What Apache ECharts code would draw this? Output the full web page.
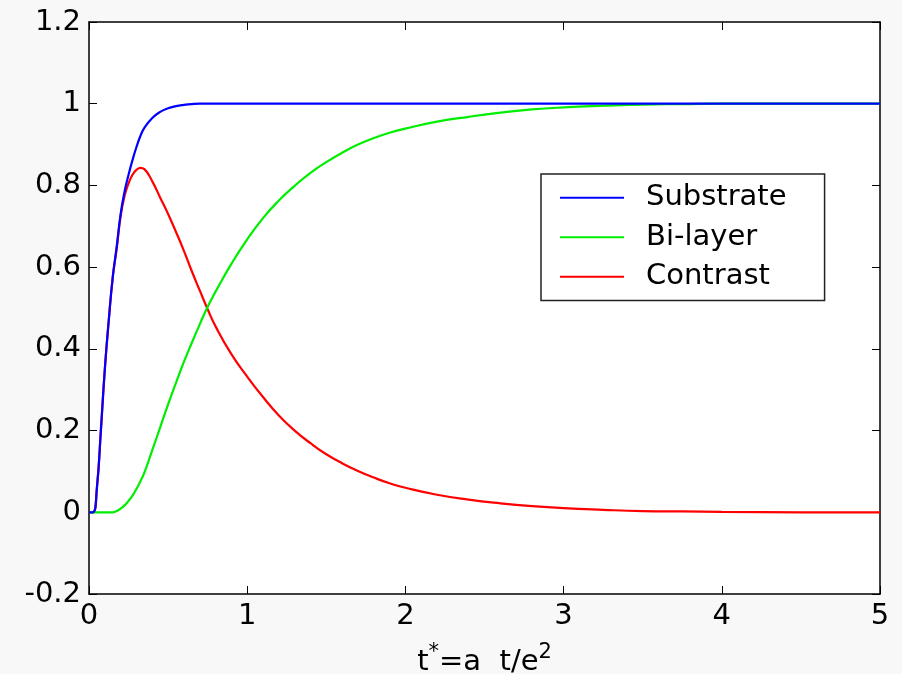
<!DOCTYPE html>
<html>
<head>
<meta charset="utf-8">
<script src="https://cdn.jsdelivr.net/npm/echarts@6/dist/echarts.min.js"></script>
<style>
  html, body { margin: 0; padding: 0; background: #f8f8f8; }
  #chart { width: 902px; height: 674px; }
</style>
</head>
<body>
<div id="chart"></div>
<script>
// Normalised time t* samples
const tStar = [0, 0.025, 0.05, 0.075, 0.1, 0.125, 0.15, 0.175, 0.2, 0.225, 0.25, 0.275,
  0.3, 0.325, 0.35, 0.4, 0.45, 0.5, 0.55, 0.6, 0.65, 0.7, 0.75, 0.8, 0.9, 1.0,
  1.1, 1.2, 1.3, 1.4, 1.5, 1.6, 1.7, 1.8, 1.9, 2.0, 2.2, 2.4, 2.6, 2.8, 3.0,
  3.25, 3.5, 3.75, 4.0, 4.5, 5.0];

// Normalised response of the substrate
const substrate = [0, 0, 0.06, 0.20, 0.35, 0.47, 0.575, 0.65, 0.73, 0.785, 0.826, 0.862,
  0.894, 0.921, 0.941, 0.965, 0.98, 0.989, 0.994, 0.997, 0.999, 1.0, 1.0, 1.0, 1.0, 1.0,
  1.0, 1.0, 1.0, 1.0, 1.0, 1.0, 1.0, 1.0, 1.0, 1.0, 1.0, 1.0, 1.0, 1.0, 1.0,
  1.0, 1.0, 1.0, 1.0, 1.0, 1.0];

// Normalised response of the bi-layer
const bilayer = [0, 0, 0, 0, 0, 0, 0, 0.003, 0.009, 0.017, 0.028, 0.041,
  0.057, 0.076, 0.097, 0.152, 0.208, 0.264, 0.317, 0.368, 0.415, 0.46, 0.503, 0.54, 0.608, 0.668,
  0.72, 0.763, 0.799, 0.831, 0.857, 0.88, 0.90, 0.916, 0.929, 0.939, 0.956, 0.968, 0.978, 0.986, 0.991,
  0.995, 0.998, 0.999, 1.0, 1.0, 1.0];

// Contrast between the two responses
const contrast = [0, 0, 0.06, 0.20, 0.35, 0.47, 0.575, 0.645, 0.725, 0.775, 0.805, 0.826,
  0.838, 0.843, 0.84, 0.81, 0.77, 0.73, 0.686, 0.64, 0.59, 0.543, 0.497, 0.455, 0.387, 0.332,
  0.282, 0.237, 0.20, 0.169, 0.142, 0.12, 0.101, 0.085, 0.071, 0.06, 0.043, 0.031, 0.022, 0.015, 0.01,
  0.006, 0.003, 0.002, 0.001, 0, 0];

const seriesNames = ['Substrate', 'Bi-layer', 'Contrast'];
const seriesColors = ['#0000ff', '#00ee00', '#ff0000'];
const seriesValues = [substrate, bilayer, contrast];

const yTickLabels = { '-0.2': '-0.2', '0': '0', '0.2': '0.2', '0.4': '0.4', '0.6': '0.6',
  '0.8': '0.8', '1': '1', '1.2': '1.2' };

const FONT = "'DejaVu Sans', 'Liberation Sans', Arial, sans-serif";
const FS = 29;

const pairs = vals => tStar.map((t, i) => [t, vals[i]]);

const axisCommon = {
  axisLine: { show: true, onZero: false, lineStyle: { color: '#000', width: 1.5 } },
  axisTick: { show: true, inside: true, length: 8, lineStyle: { color: '#000', width: 1 } },
  splitLine: { show: false }
};

const chart = echarts.init(document.getElementById('chart'), null, { renderer: 'canvas' });
chart.setOption({
  backgroundColor: '#f8f8f8',
  animation: false,
  grid: {
    left: 89, top: 22, right: 22, bottom: 80,
    outerBoundsMode: 'none', containLabel: false,
    show: true, backgroundColor: '#ffffff', borderWidth: 0
  },
  xAxis: [
    Object.assign({
      type: 'value', min: 0, max: 5, interval: 1, position: 'bottom',
      axisLabel: { color: '#000', fontSize: FS, fontFamily: FONT, margin: 8 },
      name: '{b|t}{s|*}{b|=a  t/e}{s|2}',
      nameLocation: 'middle', nameGap: 52,
      nameTextStyle: {
        rich: {
          b: { fontSize: FS, fontFamily: FONT, color: '#000', lineHeight: 32 },
          s: { fontSize: 21, fontFamily: FONT, color: '#000', lineHeight: 32, padding: [0, 0, 18, 0] }
        }
      }
    }, axisCommon),
    Object.assign({
      type: 'value', min: 0, max: 5, interval: 1, position: 'top',
      axisLabel: { show: false }
    }, axisCommon)
  ],
  yAxis: [
    Object.assign({
      type: 'value', min: -0.2, max: 1.2, interval: 0.2, position: 'left',
      axisLabel: {
        color: '#000', fontSize: FS, fontFamily: FONT, margin: 8,
        formatter: v => yTickLabels[String(+v.toFixed(1))]
      }
    }, axisCommon),
    Object.assign({
      type: 'value', min: -0.2, max: 1.2, interval: 0.2, position: 'right',
      axisLabel: { show: false }
    }, axisCommon)
  ],
  legend: {
    left: 541, top: 174, orient: 'vertical',
    backgroundColor: '#ffffff',
    borderColor: '#222', borderWidth: 1.5,
    padding: [4, 38, 4, 19],
    itemGap: 0, itemWidth: 64, itemHeight: 2,
    icon: 'rect',
    textStyle: { color: '#000', fontSize: FS, fontFamily: FONT, lineHeight: 39.5, padding: [0, 0, 0, 17] },
    data: seriesNames
  },
  series: seriesNames.map((name, i) => ({
    name, type: 'line', xAxisIndex: 0, yAxisIndex: 0,
    data: pairs(seriesValues[i]),
    showSymbol: false, symbol: 'none',
    smooth: 0.5,
    color: seriesColors[i],
    lineStyle: { color: seriesColors[i], width: 2.2 },
    z: 3 - i
  }))
});
</script>
</body>
</html>
